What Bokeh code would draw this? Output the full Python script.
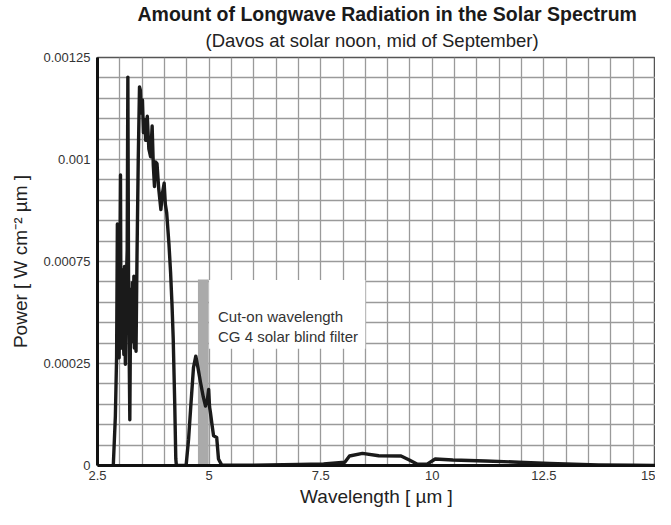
import numpy as np
from bokeh.plotting import figure
from bokeh.models import FixedTicker, Label, Range1d, BoxAnnotation, Title
from bokeh.embed import file_html
from bokeh.resources import INLINE

# ---- data ----
wavelength = [2.854, 2.90, 2.928, 2.945, 2.955, 2.97, 2.985, 3.0, 3.015, 3.025,
              3.037, 3.05, 3.06, 3.072, 3.082, 3.09, 3.105, 3.114, 3.124, 3.135,
              3.146, 3.165, 3.18, 3.196, 3.224, 3.24, 3.254, 3.262, 3.27, 3.28,
              3.29, 3.304, 3.315, 3.325, 3.335, 3.345, 3.363, 3.385,
              3.413, 3.441, 3.46, 3.48, 3.507, 3.53, 3.56, 3.58, 3.615, 3.65,
              3.689, 3.724, 3.75, 3.776, 3.80, 3.833, 3.87, 3.92, 3.95, 3.993,
              4.02, 4.05, 4.10, 4.137, 4.17, 4.196, 4.23, 4.254, 4.267, 4.485,
              4.54, 4.59, 4.65, 4.702, 4.75, 4.81, 4.87, 4.92, 4.96, 4.99,
              5.01, 5.03, 5.07, 5.10, 5.17, 5.21, 5.28, 6.0, 7.0, 7.565,
              8.04, 8.145, 8.435, 8.80, 9.30, 9.485, 9.667, 9.885, 10.065, 10.46,
              11.19, 11.93, 12.63, 13.72, 14.5, 15.0]
power = [0.0, 0.00015, 0.000334, 0.00074, 0.00039, 0.00062, 0.00033, 0.00058, 0.00089, 0.00045,
         0.00036, 0.0006, 0.00042, 0.00054, 0.00038, 0.00034, 0.00061, 0.00045, 0.00031, 0.0005,
         0.00056, 0.00066, 0.00119, 0.00054, 0.00014, 0.00045, 0.00054, 0.0004, 0.00038, 0.00056,
         0.00052, 0.00048, 0.00058, 0.00036, 0.00047, 0.00055, 0.00035, 0.00064,
         0.00094, 0.00116, 0.00115, 0.00108, 0.00112, 0.00102, 0.00106, 0.000996, 0.00107, 0.00097,
         0.000946, 0.00104, 0.00092, 0.000855, 0.00093, 0.000925, 0.00085, 0.000784, 0.00083, 0.000865,
         0.0008, 0.000774, 0.00068, 0.000592, 0.00049, 0.000389, 0.00019, 0.00002, 0.0, 0.0,
         0.00008, 0.000182, 0.0003, 0.000335, 0.0003, 0.000253, 0.00021, 0.000182, 0.0002, 0.000233,
         0.00018, 0.000162, 0.00012, 0.000091, 0.000086, 0.00002, 0.000002, 0.000001, 0.000003, 0.000005,
         0.00001, 0.000029, 0.000037, 0.00003, 0.000029, 0.000017, 0.000004, 0.000004, 0.00002, 0.000017,
         0.000014, 0.00001, 0.000006, 0.000002, 0.000001, 0.0000005]

filter_left = 4.75
filter_right = 4.99
filter_top = 0.00057

x_ticks = [2.5, 5.0, 7.5, 10.0, 12.5, 15.0]
x_tick_labels = ["2.5", "5", "7.5", "10", "12.5", "15"]
y_ticks = [0.0, 0.0003125, 0.000625, 0.0009375, 0.00125]
y_tick_labels = ["0", "0.00025", "0.00075", "0.001", "0.00125"]

title_text = "Amount of Longwave Radiation in the Solar Spectrum"
subtitle_text = "(Davos at solar noon, mid of September)"
note_lines = ["Cut-on wavelength", "CG 4 solar blind filter"]

FONT = "Liberation Sans"
X0, X1 = 2.5, 15.0
Y0, Y1 = 0.0, 0.00125
py = (Y1 - Y0) / 408.0  # data units per pixel (vertical)

p = figure(width=655, height=509, x_range=Range1d(X0, X1), y_range=Range1d(Y0, Y1),
           output_backend="svg", toolbar_location=None, title=None,
           min_border_left=97, min_border_right=0, min_border_top=57, min_border_bottom=40)

p.background_fill_color = "white"
p.border_fill_color = "white"
p.outline_line_color = "#555555"
p.outline_line_width = 1.5

# titles (first added sits closest to the plot)
p.add_layout(Title(text=subtitle_text, align="left", offset=108, text_font=FONT,
                   text_font_size="18.5px", text_font_style="normal", text_color="#222222",
                   standoff=13), "above")
p.add_layout(Title(text=title_text, align="left", offset=40, text_font=FONT,
                   text_font_size="19.5px", text_font_style="bold", text_color="#1a1a1a",
                   standoff=-7), "above")

# grid
p.xgrid.ticker = FixedTicker(ticks=list(np.arange(3.0, 15.0, 0.5)))
p.ygrid.ticker = FixedTicker(ticks=list(np.linspace(Y0, Y1, 21)[1:-1]))
p.grid.grid_line_color = "#9a9a9a"
p.grid.grid_line_width = 1.3

# axes
p.xaxis.ticker = FixedTicker(ticks=x_ticks)
p.xaxis.major_label_overrides = {t: s for t, s in zip(x_ticks, x_tick_labels)}
p.yaxis.ticker = FixedTicker(ticks=y_ticks)
p.yaxis.major_label_overrides = {t: s for t, s in zip(y_ticks, y_tick_labels)}
for ax in (p.xaxis, p.yaxis):
    ax.major_tick_line_color = None
    ax.minor_tick_line_color = None
    ax.major_tick_out = 0
    ax.major_tick_in = 0
    ax.minor_tick_out = 0
    ax.minor_tick_in = 0
    ax.axis_line_color = "#111111"
    ax.axis_line_width = 3
    ax.major_label_text_font = FONT
    ax.major_label_text_font_size = "13px"
    ax.major_label_text_color = "#333333"
    ax.axis_label_text_font = FONT
    ax.axis_label_text_font_size = "19px"
    ax.axis_label_text_font_style = "normal"
    ax.axis_label_text_color = "#222222"
p.xaxis.major_label_standoff = 5
p.yaxis.major_label_standoff = 7
p.xaxis.axis_label = "Wavelength [ µm ]"
p.xaxis.axis_label_standoff = 3
p.yaxis.axis_label = "Power [ W cm⁻² µm ]"
p.yaxis.axis_label_standoff = 10

# filter bar
p.quad(left=[filter_left], right=[filter_right], bottom=[0], top=[filter_top],
       fill_color="#aaaaaa", line_color=None)

# spectrum
p.line(wavelength, power, line_width=3.4, line_color="#1a1a1a", line_join="round")

# note box
p.add_layout(BoxAnnotation(left=5.0, right=8.5, bottom=0.000358, top=0.000568,
                           fill_color="white", fill_alpha=1.0, line_color=None))
for i, t in enumerate(note_lines):
    p.add_layout(Label(x=5.2, y=0.000456 - i * 20 * py, text=t, text_font=FONT,
                       text_font_size="15px", text_color="#333333", text_baseline="middle"))

open("out.html", "w").write(file_html(p, INLINE))
